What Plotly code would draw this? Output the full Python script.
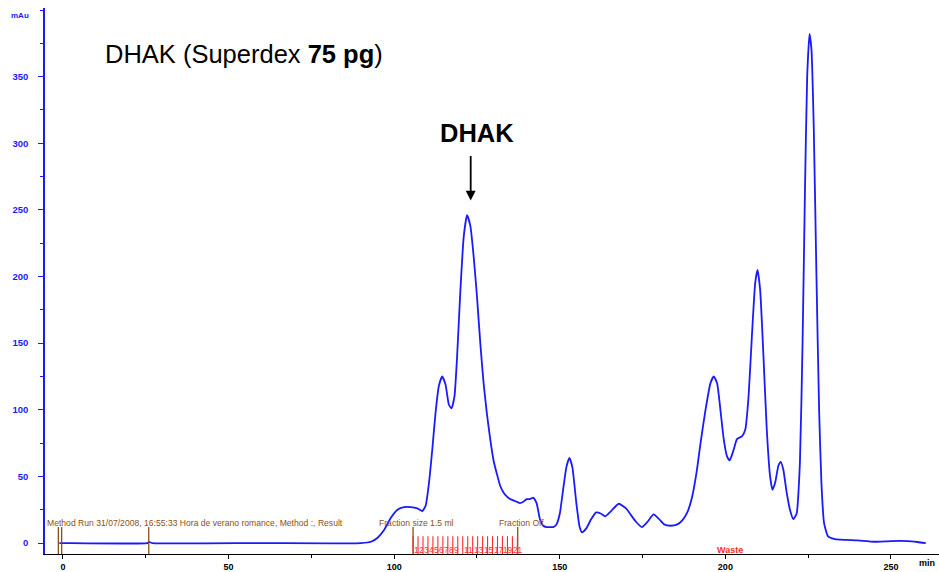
import plotly.graph_objects as go

# UV absorbance trace (mAu) against elution time (min)
time_min = [
    -1.1, 0, 25.5, 26, 27, 60, 90, 93, 95, 97, 99, 101, 103, 105, 107, 108.5, 109.5,
    110.5, 111.5, 112.5, 113.5, 114.5, 115.5, 116.5, 117.3, 118.2, 119, 120, 121,
    122, 123, 124, 125, 126, 127, 128, 129, 130, 131, 132, 133, 134, 135, 136,
    137, 138, 139, 140, 141, 142, 143, 144, 145, 146, 147, 148, 149, 150, 151,
    152, 152.9, 153.8, 155, 156, 156.7, 158, 159.5, 161, 162.5, 163.7, 165.5,
    167.8, 170, 171.5, 173, 174.8, 176.5, 178.3, 180, 181.5, 183.5, 185.5, 187,
    188.5, 189.9, 191.3, 192.5, 194, 195.5, 196.5, 197.5, 198.5, 199.5, 200.5,
    201.3, 202.5, 203.5, 205, 206, 207, 208, 209, 209.7, 210.5, 211.5, 212.5,
    213.5, 214.2, 215, 216, 216.7, 217.5, 218.5, 219.5, 220.5, 221.5, 222.5,
    223.3, 224, 224.7, 225.4, 226, 226.7, 227.5, 228.3, 229, 229.8, 231, 233,
    240, 245, 250, 255, 258, 260.5,
]
absorbance_mau = [
    0, 0, 0, 0.8, 0, 0, 0, 1, 4, 10, 19, 25, 27, 27, 26, 24, 28,
    45, 70, 98, 118, 125, 119, 104, 101, 110, 140, 190, 230,
    246, 238, 215, 185, 150, 120, 97, 78, 62, 52, 43, 38, 35, 33, 32,
    31, 30, 31, 33, 33, 34, 30, 18, 13, 12, 12, 12, 14, 22, 40,
    57, 64, 57, 30, 12, 8, 11, 18, 23, 22, 20, 24,
    29.5, 26, 21, 16, 12, 16, 21.5, 18, 14, 13, 14, 17,
    23, 34, 53, 75, 100, 120, 125, 120, 100, 78, 65,
    62, 70, 78, 80, 85, 110, 155, 195, 205, 190, 140, 85,
    50, 40, 45, 58, 61, 55, 38, 25, 18, 22, 60,
    150, 260, 350, 382, 370, 310, 200, 100, 45, 15, 5, 3,
    2, 1, 1.5, 1.5, 0.8, 0,
]

# Run events and fraction collection
event_marks_min = [-1.4, -0.4, 25.9]
fraction_start_min = 105.7
fraction_width_min = 1.5
fraction_count = 21
fraction_off_min = 137.3
fraction_labels = ["1", "2", "3", "4", "5", "6", "7", "8", "9",
                   "11", "13", "15", "17", "19", "21"]
waste_label_min = 201.5

x_ticks = [0, 50, 100, 150, 200, 250]
y_ticks = [0, 50, 100, 150, 200, 250, 300, 350]

X_RANGE = [-5.43, 264.5]
Y_RANGE = [-8.2, 401.5]

BLUE = "#1a1aff"
BROWN = "#8a4f16"
RED = "#ff2a2a"
FONT = "Liberation Sans, Arial, sans-serif"

fig = go.Figure()
fig.add_trace(go.Scatter(
    x=time_min, y=absorbance_mau, mode="lines",
    line=dict(color=BLUE, width=1.8, shape="spline", smoothing=0.5),
    hoverinfo="skip", showlegend=False,
))

shapes = []
# event marks (brown)
for t in event_marks_min + [fraction_start_min, fraction_off_min]:
    shapes.append(dict(type="line", xref="x", yref="y", x0=t, x1=t,
                       y0=Y_RANGE[0], y1=12, line=dict(color=BROWN, width=1.3)))
# fraction boundaries (red)
for k in range(fraction_count + 1):
    t = fraction_start_min + k * fraction_width_min
    shapes.append(dict(type="line", xref="x", yref="y", x0=t, x1=t,
                       y0=Y_RANGE[0], y1=5.2, line=dict(color=RED, width=1.1)))

annotations = []
small = dict(family=FONT, size=8.6, color=BROWN)
annotations.append(dict(x=-5.43, y=14.9, xref="x", yref="y", xanchor="left",
                        yanchor="middle", showarrow=False, font=small,
                        text="Method Run 31/07/2008, 16:55:33 Hora de verano romance, Method :, Result"))
annotations.append(dict(x=94.8, y=14.9, xref="x", yref="y", xanchor="left",
                        yanchor="middle", showarrow=False, font=small,
                        text="Fraction size 1.5 ml"))
annotations.append(dict(x=131.0, y=14.9, xref="x", yref="y", xanchor="left",
                        yanchor="middle", showarrow=False, font=small,
                        text="Fraction Off"))
for lab in fraction_labels:
    t = fraction_start_min + (int(lab) - 1) * fraction_width_min
    annotations.append(dict(x=t, y=-5.2, xref="x", yref="y", xanchor="left",
                            yanchor="middle", showarrow=False, borderpad=0,
                            font=dict(family=FONT, size=8.3, color=RED), text=lab))
annotations.append(dict(x=waste_label_min, y=-5.2, xref="x", yref="y",
                        xanchor="center", yanchor="middle", showarrow=False,
                        font=dict(family=FONT, size=9, color=RED, weight="bold"),
                        text="Waste"))

# axis unit labels (paper coordinates of the 894x549 plot area)
annotations.append(dict(x=-0.0157, y=0.9854, xref="paper", yref="paper", showarrow=False,
                        text="mAu", font=dict(family=FONT, size=8, color=BLUE, weight="bold"),
                        xanchor="right", yanchor="middle"))
annotations.append(dict(x=0.9866, y=-0.0164, xref="paper", yref="paper", showarrow=False,
                        text="min", font=dict(family=FONT, size=9, color="black", weight="bold"),
                        xanchor="center", yanchor="middle"))

# titles
annotations.append(dict(x=12.1, y=367, xref="x", yref="y", xanchor="left",
                        yanchor="middle", showarrow=False,
                        text="DHAK (Superdex <b>75 pg</b>)",
                        font=dict(family=FONT, size=25.5, color="black")))
annotations.append(dict(x=125.0, y=307.5, xref="x", yref="y", xanchor="center",
                        yanchor="middle", showarrow=False, text="<b>DHAK</b>",
                        font=dict(family=FONT, size=25.5, color="black")))
annotations.append(dict(x=123.1, y=257.0, xref="x", yref="y", text="",
                        showarrow=True, ax=0, ay=-46, arrowhead=2, arrowsize=1.1,
                        arrowwidth=1.8, arrowcolor="black"))

fig.update_layout(
    width=939, height=572,
    margin=dict(l=45, r=0, t=8, b=15, pad=0),
    paper_bgcolor="white", plot_bgcolor="white",
    font=dict(family=FONT),
    shapes=shapes, annotations=annotations,
    xaxis=dict(range=X_RANGE, tickvals=x_ticks, showgrid=False, zeroline=False,
               showline=True, linecolor="black", linewidth=1.2,
               ticks="outside", ticklen=4, tickcolor="black", tickwidth=1,
               tickfont=dict(family=FONT, size=9, color="black", weight="bold"),
               minor=dict(dtick=25, tick0=0, ticks="outside", ticklen=3,
                          tickcolor="black", showgrid=False)),
    yaxis=dict(range=Y_RANGE, tickvals=y_ticks, showgrid=False, zeroline=False,
               showline=True, linecolor=BLUE, linewidth=1.5,
               ticks="outside", ticklen=5, tickcolor=BLUE, tickwidth=1,
               ticklabelstandoff=8,
               tickfont=dict(family=FONT, size=9.5, color=BLUE, weight="bold"),
               minor=dict(dtick=25, tick0=0, ticks="outside", ticklen=3,
                          tickcolor=BLUE, showgrid=False)),
)

fig.write_html("out.html")
